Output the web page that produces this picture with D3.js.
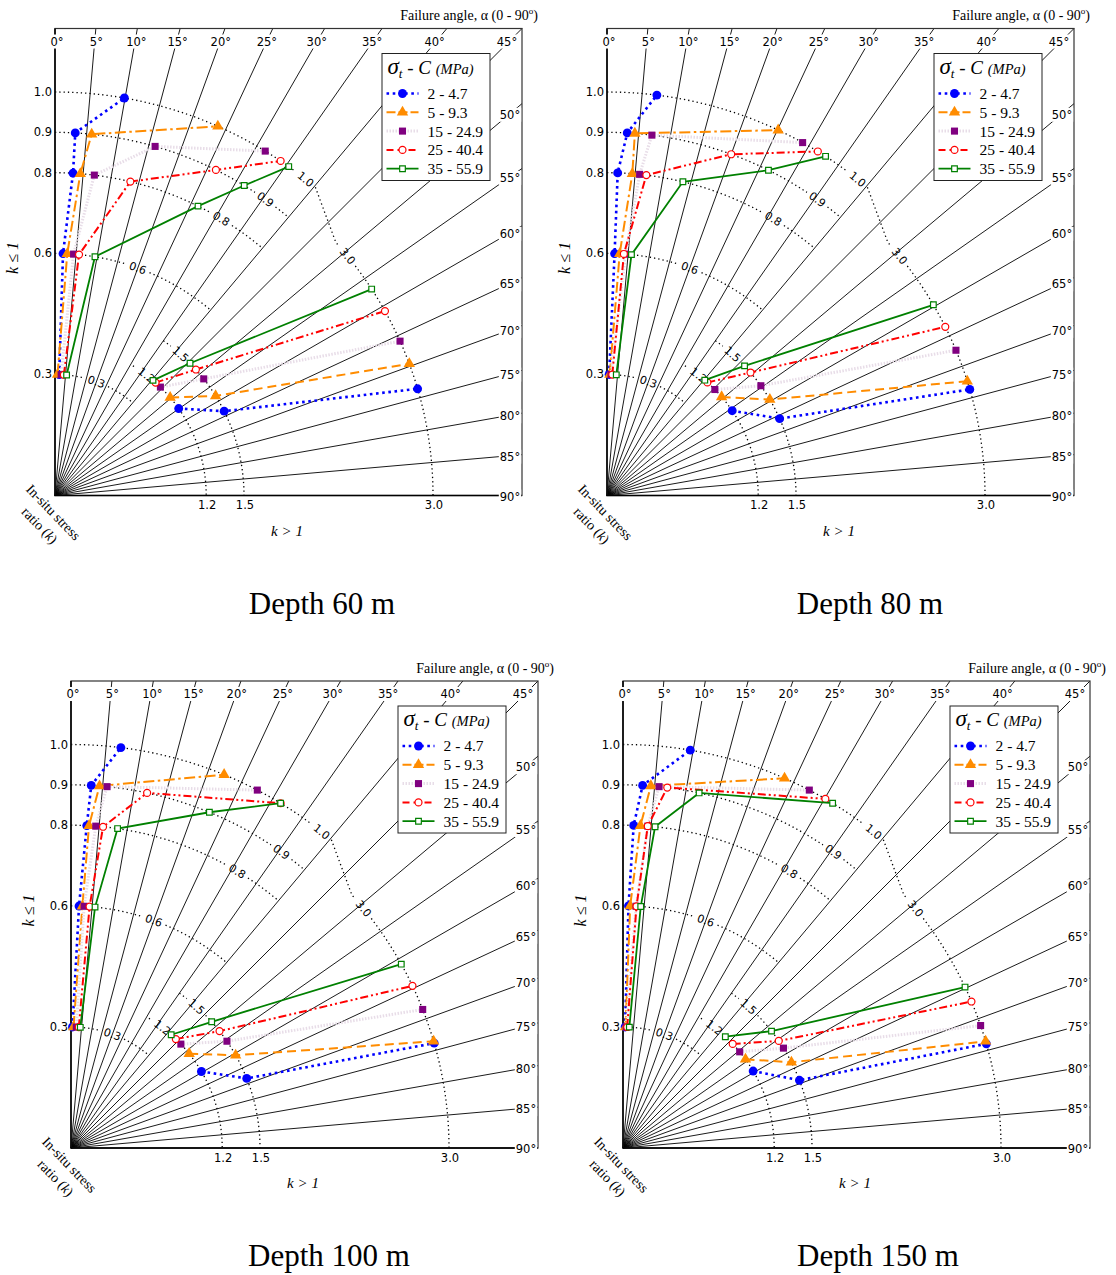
<!DOCTYPE html>
<html>
<head>
<meta charset="utf-8">
<script src="https://cdn.jsdelivr.net/npm/d3@7"></script>
<style>
  body { margin: 0; background: #fff; }
  text { font-family: "DejaVu Sans", sans-serif; fill: #000; }
  .serif { font-family: "Liberation Serif", "Times New Roman", serif; }
</style>
</head>
<body>
<svg id="chart" width="1116" height="1275"></svg>
<script>
const depths = ['Depth 60 m', 'Depth 80 m', 'Depth 100 m', 'Depth 150 m'];
const seriesNames = ['2 - 4.7', '5 - 9.3', '15 - 24.9', '25 - 40.4', '35 - 55.9'];
const kLow = [0.3, 0.6, 0.8, 0.9, 1.0];
const kHigh = [1.2, 1.5, 3.0];
const angleTicks = [0, 5, 10, 15, 20, 25, 30, 35, 40, 45, 50, 55, 60, 65, 70, 75, 80, 85, 90];
const lowTickLabels = ['0.3', '0.6', '0.8', '0.9', '1.0'];
const highTickLabels = ['1.2', '1.5', '3.0'];

// failure angle (deg) per series, at k = 0.3, 0.6, 0.8, 0.9, 1.0, 1.2, 1.5, 3.0
const alpha60 = [
  [2.0, 1.9, 3.2, 3.2, 9.9, 54.9, 63.5, 73.6],
  [1.2, 2.9, 4.5, 5.8, 23.8, 49.6, 58.2, 69.6],
  [2.9, 4.4, 7.0, 16.0, 31.4, 44.2, 51.9, 65.9],
  [4.2, 5.7, 13.5, 26.3, 34.0, 41.7, 48.2, 60.8],
  [5.5, 9.5, 26.3, 31.4, 35.4, 40.4, 45.6, 56.9]
];
const alpha80 = [
  [1.0, 1.8, 1.9, 3.2, 7.1, 55.9, 66.0, 73.7],
  [1.3, 3.0, 4.5, 4.4, 25.1, 49.3, 59.5, 72.4],
  [1.9, 4.4, 5.8, 7.1, 29.0, 45.5, 54.5, 67.4],
  [2.5, 4.0, 7.0, 20.0, 31.5, 41.6, 49.4, 63.5],
  [4.4, 5.8, 13.6, 26.4, 32.8, 40.3, 46.7, 59.7]
];
const alpha100 = [
  [0.7, 1.9, 2.8, 3.2, 7.1, 59.6, 68.4, 73.9],
  [1.2, 2.7, 3.2, 4.5, 22.3, 51.4, 60.6, 73.6],
  [2.5, 3.1, 4.4, 5.7, 27.5, 46.6, 55.6, 68.5],
  [3.7, 4.4, 5.7, 12.1, 31.3, 43.9, 51.8, 64.6],
  [4.4, 5.7, 8.3, 22.4, 31.3, 41.5, 48.1, 60.9]
];
const alpha150 = [
  [1.0, 1.3, 1.9, 3.1, 9.6, 59.4, 69.0, 74.0],
  [1.2, 1.7, 3.1, 4.4, 23.6, 54.1, 63.0, 73.6],
  [1.5, 3.1, 4.4, 5.7, 27.5, 50.5, 58.1, 71.1],
  [2.0, 3.2, 4.4, 7.0, 30.1, 46.5, 55.5, 67.2],
  [3.0, 4.2, 5.7, 12.1, 31.3, 42.6, 51.8, 64.8]
];
const panelAlphas = [alpha60, alpha80, alpha100, alpha150];

// layout
const S = 467;
const panels = [
  { x: 55, y: 28.5, tx: 322, ty: 614 },
  { x: 607, y: 28.5, tx: 870, ty: 614 },
  { x: 71, y: 681, tx: 329, ty: 1266 },
  { x: 623, y: 681, tx: 878, ty: 1266 }
];
const lowLabelAngle = [20, 20, 31, 35.4, 38.4];
const highLabelAngle = [37.2, 41.6, 50.7];
const highArcStart = [31, 35, 48];

const styles = [
  { color: '#0000ff', width: 2.6, low: '2.6,3.6', high: '2.6,3.6', legend: '2.6,3.6', sym: d3.symbolCircle, size: 62, fill: '#0000ff', stroke: 'none' },
  { color: '#ff8c00', width: 2, low: '11,3.5,2.5,3.5', high: '9,5', legend: '9,3', sym: d3.symbolTriangle, size: 56, fill: '#ff8c00', stroke: 'none' },
  { color: '#e8dde8', width: 3, low: '1.5,1.5', high: '1.5,1.5', legend: '1.5,1.5', sym: d3.symbolSquare, size: 50, fill: '#800080', stroke: 'none' },
  { color: '#ff0000', width: 2, low: '8,3,2,3,2,3', high: '8,3,2,3,2,3', legend: '7,4', sym: d3.symbolCircle, size: 38, fill: '#fff', stroke: '#ff0000' },
  { color: '#008000', width: 1.8, low: null, high: null, legend: null, sym: d3.symbolSquare, size: 32, fill: '#fff', stroke: '#008000' }
];

const rLow = d3.scaleLinear().domain([0, 1]).range([0, 403.5]);
const rHigh = d3.scaleLinear().domain([0, 3]).range([0, 378]);
const ang = d3.scaleLinear().domain([0, 90]).range([0, Math.PI / 2]);
const rad = k => (k <= 1 ? rLow(k) : rHigh(k));
const polar = (r, a) => [r * Math.sin(ang(a)), -r * Math.cos(ang(a))];
const scr = a => ang(a) - Math.PI / 2;

const svg = d3.select('#chart');
svg.append('rect').attr('width', 1116).attr('height', 1275).attr('fill', '#fff');

const radial = d3.lineRadial().angle(d => ang(d.a)).radius(d => rad(d.k));

function labelBg(g, sel, pad) {
  sel.each(function () {
    const b = this.getBBox();
    g.insert('rect', () => this)
      .attr('x', b.x - pad).attr('y', b.y - pad + 1)
      .attr('width', b.width + 2 * pad).attr('height', b.height + 2 * pad - 2)
      .attr('fill', '#fff');
  });
}

function arcPath(r, a0, a1) {
  if (a1 <= a0) return null;
  const p = d3.path();
  const [x0, y0] = polar(r, a0);
  p.moveTo(x0, y0);
  p.arc(0, 0, r, scr(a0), scr(a1), false);
  return p.toString();
}

function drawPanel(pi) {
  const P = panels[pi];
  const g = svg.append('g').attr('transform', `translate(${P.x},${P.y + S})`);

  // radial failure-angle lines
  const rays = g.append('g');
  angleTicks.forEach(a => {
    const t = ang(a);
    const end = a <= 45 ? [S * Math.tan(t), -S] : [S, -S / Math.tan(t)];
    rays.append('path')
      .attr('d', d3.line()([[0, 0], end]))
      .attr('stroke', '#000').attr('stroke-width', 0.9).attr('fill', 'none');
  });

  // dotted k contours
  const arcs = g.append('g').attr('fill', 'none').attr('stroke', '#000')
    .attr('stroke-width', 1.3).attr('stroke-dasharray', '1.3,3');
  const gapFor = (r, txt) => ((txt.length * 6.4) / 2 + 3) / r * 180 / Math.PI;
  const addArc = d => { if (d) arcs.append('path').attr('d', d); };

  kLow.forEach((k, i) => {
    const r = rLow(k);
    const la = lowLabelAngle[i];
    const gap = gapFor(r, lowTickLabels[i]);
    addArc(arcPath(r, 0, la - gap));
    if (k === 1.0) {
      const r3 = rHigh(3.0);
      const start = la + gap;
      const p = d3.path();
      const [x0, y0] = polar(r, start);
      p.moveTo(x0, y0);
      if (start < 40) p.arc(0, 0, r, scr(start), scr(40), false);
      const [x1, y1] = polar(r3, highArcStart[2]);
      p.lineTo(x1, y1);
      const end3 = highLabelAngle[2] - gapFor(r3, '3.0');
      if (end3 > highArcStart[2]) p.arc(0, 0, r3, scr(highArcStart[2]), scr(end3), false);
      addArc(p.toString());
    } else {
      addArc(arcPath(r, la + gap, 40));
    }
  });
  kHigh.forEach((k, i) => {
    const r = rHigh(k);
    const la = highLabelAngle[i];
    const gap = gapFor(r, highTickLabels[i]);
    if (i < 2) addArc(arcPath(r, highArcStart[i], la - gap));
    addArc(arcPath(r, la + gap, 90));
  });

  // inline contour labels
  const inl = g.append('g').attr('font-size', 11).attr('text-anchor', 'middle');
  kLow.concat(kHigh).forEach((k, i) => {
    const la = i < 5 ? lowLabelAngle[i] : highLabelAngle[i - 5];
    const txt = i < 5 ? lowTickLabels[i] : highTickLabels[i - 5];
    const [x, y] = polar(rad(k), la);
    inl.append('text')
      .attr('transform', `translate(${x},${y}) rotate(${la})`)
      .attr('dy', '0.35em')
      .text(txt);
  });

  // frame
  g.append('rect').attr('x', 0).attr('y', -S).attr('width', S).attr('height', S)
    .attr('fill', 'none').attr('stroke', '#333').attr('stroke-width', 1.2);
  g.append('path').attr('d', d3.line()([[0, -S], [0, 0], [S, 0]]))
    .attr('fill', 'none').attr('stroke', '#000').attr('stroke-width', 1.3);

  // angle labels on top and right
  const al = g.append('g').attr('font-size', 11.5).attr('text-anchor', 'middle');
  angleTicks.forEach(a => {
    const t = ang(a);
    let x, y;
    if (a <= 45) {
      x = Math.min(450 * Math.tan(t) + 2, S - 11);
      y = -S + 13;
    } else {
      x = S - 12;
      y = -(S - 12) / Math.tan(t) + 1;
    }
    al.append('text').attr('x', x).attr('y', y).attr('dy', '0.35em').text(a + '°');
  });
  labelBg(al, al.selectAll('text'), 1);

  // axis tick labels
  const tl = g.append('g').attr('font-size', 11.5);
  kLow.forEach((k, i) => {
    tl.append('text').attr('x', -3).attr('y', -rLow(k)).attr('dy', '0.35em')
      .attr('text-anchor', 'end').text(lowTickLabels[i]);
  });
  kHigh.forEach((k, i) => {
    tl.append('text').attr('x', rHigh(k) + 1).attr('y', 13.5)
      .attr('text-anchor', 'middle').text(highTickLabels[i]);
  });

  // axis titles
  g.append('text').attr('class', 'serif').attr('x', 483).attr('y', -S - 8.5)
    .attr('text-anchor', 'end').attr('font-size', 14)
    .call(t => {
      t.append('tspan').text('Failure angle, α (0 - 90');
      t.append('tspan').attr('font-size', 9).attr('dy', -6).text('o');
      t.append('tspan').attr('dy', 6).text(')');
    });
  g.append('text').attr('class', 'serif').attr('font-style', 'italic').attr('font-size', 16)
    .attr('text-anchor', 'middle')
    .attr('transform', `translate(${-37},${-S + 229.5}) rotate(-90)`)
    .text('k ≤ 1');
  g.append('text').attr('class', 'serif').attr('font-style', 'italic').attr('font-size', 15)
    .attr('text-anchor', 'middle').attr('x', 232).attr('y', 40)
    .text('k > 1');
  const ins = g.append('g').attr('transform', 'translate(-5,20) rotate(46)')
    .attr('class', 'serif').attr('font-size', 14);
  ins.append('text').attr('class', 'serif').attr('text-anchor', 'middle').text('In-situ stress');
  ins.append('text').attr('class', 'serif').attr('text-anchor', 'middle').attr('y', 19)
    .call(t => {
      t.append('tspan').text('ratio (');
      t.append('tspan').attr('font-style', 'italic').text('k');
      t.append('tspan').text(')');
    });

  // series
  const alphas = panelAlphas[pi];
  alphas.forEach((row, si) => {
    const st = styles[si];
    const pts = kLow.concat(kHigh).map((k, i) => ({ k, a: row[i] }));
    const sg = g.append('g');
    [[pts.slice(0, 5), st.low], [pts.slice(5), st.high]].forEach(([part, dash]) => {
      sg.append('path').attr('d', radial(part))
        .attr('fill', 'none').attr('stroke', st.color).attr('stroke-width', st.width)
        .attr('stroke-dasharray', dash);
    });
    sg.selectAll('path.m').data(pts).join('path').attr('class', 'm')
      .attr('transform', d => {
        const [x, y] = polar(rad(d.k), d.a);
        return `translate(${x},${y})`;
      })
      .attr('d', d3.symbol().type(st.sym).size(st.size))
      .attr('fill', st.fill).attr('stroke', st.stroke).attr('stroke-width', 1.2);
  });

  // legend
  const lg = g.append('g').attr('transform', `translate(327,${-S + 25})`);
  lg.append('rect').attr('width', 108).attr('height', 127)
    .attr('fill', '#fff').attr('stroke', '#222').attr('stroke-width', 1);
  lg.append('text').attr('class', 'serif').attr('font-style', 'italic').attr('x', 5.5).attr('y', 20)
    .call(t => {
      t.append('tspan').attr('font-size', 23).text('σ');
      t.append('tspan').attr('font-size', 13).attr('dy', 4).text('t');
      t.append('tspan').attr('font-size', 19).attr('dy', -4).text(' - C ');
      t.append('tspan').attr('font-size', 14.5).text('(MPa)');
    });
  seriesNames.forEach((name, si) => {
    const st = styles[si];
    const y = 40 + si * 18.8;
    lg.append('path').attr('d', d3.line()([[4.5, y], [36.5, y]]))
      .attr('stroke', st.color).attr('stroke-width', st.width)
      .attr('stroke-dasharray', st.legend).attr('fill', 'none');
    lg.append('path').attr('transform', `translate(20.5,${y})`)
      .attr('d', d3.symbol().type(st.sym).size(st.size))
      .attr('fill', st.fill).attr('stroke', st.stroke).attr('stroke-width', 1.2);
    lg.append('text').attr('class', 'serif').attr('font-size', 15.5)
      .attr('x', 45.5).attr('y', y).attr('dy', '0.35em').text(name);
  });

  // panel title
  svg.append('text').attr('class', 'serif').attr('font-size', 31)
    .attr('text-anchor', 'middle').attr('x', P.tx).attr('y', P.ty)
    .text(depths[pi]);
}

panels.forEach((p, i) => drawPanel(i));
</script>
</body>
</html>
